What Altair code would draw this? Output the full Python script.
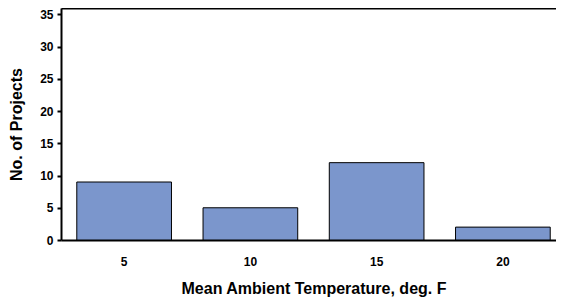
import altair as alt
import pandas as pd

temps = ["5", "10", "15", "20"]
projects = [9, 5, 12, 2]
y_ticks = [0, 5, 10, 15, 20, 25, 30, 35]

df = pd.DataFrame({"temp": temps, "n": projects})

FONT = "Liberation Sans"

y_axis = alt.Axis(
    values=y_ticks, grid=False, tickSize=4, tickColor="black",
    tickWidth=2, labelPadding=4, titlePadding=15, labelOverlap=False,
    domainColor="black", domainWidth=2,
)
y_scale = alt.Scale(domain=[0, 36], nice=False)
x_scale = alt.Scale(paddingInner=0.25, paddingOuter=0.125, range=[0, 505])

bars = alt.Chart(df).mark_bar(
    color="#7b96cc", stroke="black", strokeWidth=1
).encode(
    x=alt.X(
        "temp:N",
        sort=temps,
        title="Mean Ambient Temperature, deg. F",
        scale=x_scale,
        axis=alt.Axis(
            labelAngle=0, ticks=False, labelPadding=16, titlePadding=13,
            domainColor="black", domainWidth=2,
        ),
    ),
    y=alt.Y("n:Q", title="No. of Projects", scale=y_scale, axis=y_axis),
)

frame = alt.Chart(df).mark_bar(opacity=0).encode(
    x=alt.X(
        "temp:N",
        sort=temps,
        title=None,
        scale=x_scale,
        axis=alt.Axis(
            orient="top", labels=False, ticks=False,
            domainColor="black", domainWidth=2,
        ),
    ),
)

chart = alt.layer(bars, frame).resolve_axis(x="independent").properties(
    width=495, height=232,
    autosize=alt.AutoSizeParams(type="none"),
    padding={"left": 53, "top": 0, "right": 0, "bottom": 59},
).configure_view(strokeWidth=0, stroke="transparent").configure_axis(
    labelFont=FONT, labelFontWeight="bold", labelFontSize=12, labelColor="black",
    titleFont=FONT, titleFontWeight="bold", titleFontSize=16, titleColor="black",
)

chart.save("out.html", embed_options={"renderer": "svg", "actions": False})
